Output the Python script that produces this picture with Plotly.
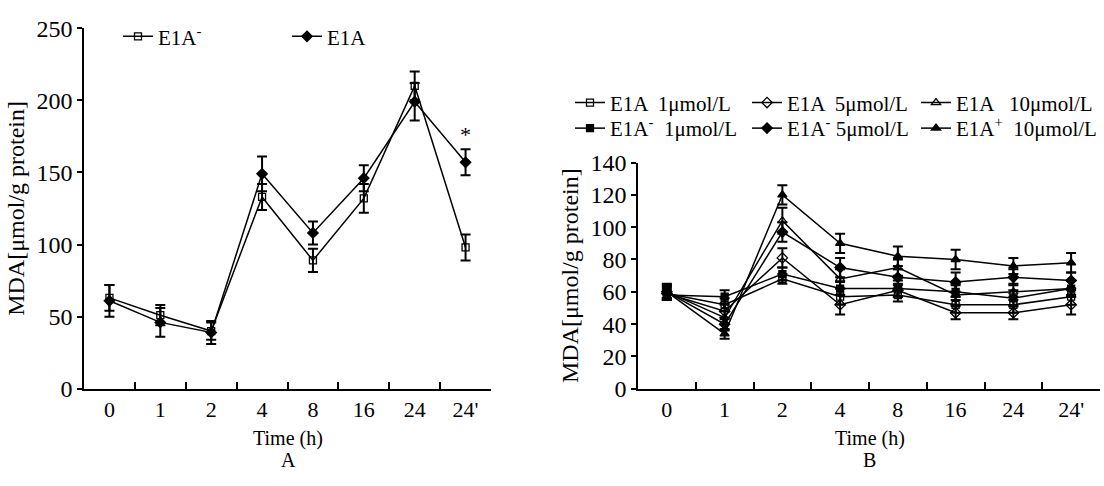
import plotly.graph_objects as go

categories = ["0", "1", "2", "4", "8", "16", "24", "24'"]

# Panel A
a_names = ["E1A<sup>-</sup>", "E1A"]
a_neg_vals = [63, 51, 40, 133, 89, 132, 210, 98]
a_neg_err = [9, 7, 6, 9, 8, 10, 10, 9]
a_pos_vals = [61, 46, 39, 149, 108, 146, 199, 157]
a_pos_err = [11, 10, 8, 12, 8, 9, 13, 9]

# Panel B
b_names = ["E1A  1μmol/L", "E1A  5μmol/L", "E1A   10μmol/L",
           "E1A<sup>-</sup>  1μmol/L", "E1A<sup>-</sup> 5μmol/L", "E1A<sup>+</sup>  10μmol/L"]
b_e1a_1 = [59, 52, 68, 57, 58, 52, 52, 57]
b_e1a_5 = [59, 48, 81, 52, 61, 47, 47, 52]
b_e1a_10 = [60, 44, 104, 68, 75, 58, 60, 62]
b_neg_1 = [58, 57, 71, 62, 62, 60, 56, 62]
b_neg_5 = [60, 40, 97, 75, 69, 66, 69, 67]
b_pos_10 = [60, 34, 120, 90, 82, 80, 76, 78]
b_err_e1a_1 = [3, 4, 3, 5, 4, 5, 5, 5]
b_err_e1a_5 = [4, 4, 6, 6, 4, 4, 4, 6]
b_err_e1a_10 = [4, 4, 8, 6, 5, 6, 5, 5]
b_err_neg_1 = [3, 4, 4, 4, 5, 5, 5, 5]
b_err_neg_5 = [4, 4, 6, 6, 5, 6, 5, 5]
b_err_pos_10 = [5, 3, 6, 6, 6, 6, 5, 6]

x_title = "Time (h)"
y_title = "MDA[μmol/g protein]"

FONT = "Liberation Serif"
W, H = 1104, 486


def px_x(p):
    return p / W


def px_y(p):
    return 1 - p / H


fig = go.Figure()


def add(x_ax, y_ax, vals, errs, name, symbol, legend, size):
    fig.add_trace(go.Scatter(
        x=categories, y=vals, name=name, mode="lines+markers",
        xaxis=x_ax, yaxis=y_ax, legend=legend,
        line=dict(color="black", width=1.5),
        marker=dict(symbol=symbol, size=size, color="black",
                    line=dict(color="black", width=1.3)),
        error_y=dict(type="data", array=errs, visible=True, color="black", thickness=2, width=5),
    ))


add("x", "y", a_neg_vals, a_neg_err, a_names[0], "square-open", "legend", 7)
add("x", "y", a_pos_vals, a_pos_err, a_names[1], "diamond", "legend2", 8)

b_series = [b_e1a_1, b_e1a_5, b_e1a_10, b_neg_1, b_neg_5, b_pos_10]
b_errs = [b_err_e1a_1, b_err_e1a_5, b_err_e1a_10, b_err_neg_1, b_err_neg_5, b_err_pos_10]
b_symbols = ["square-open", "diamond-open", "triangle-up-open", "square", "diamond", "triangle-up"]
b_sizes = [7, 8, 8, 7, 8, 8]
for i, (vals, errs, name, sym, sz) in enumerate(zip(b_series, b_errs, b_names, b_symbols, b_sizes)):
    add("x2", "y2", vals, errs, name, sym, "legend%d" % (i + 3), sz)

xcommon = dict(type="category", range=[-0.5, 7.5], showline=True, linecolor="black", linewidth=1.5,
               ticks="inside", tickson="boundaries", ticklen=7, tickwidth=1.5, tickcolor="black",
               showgrid=False, zeroline=False, ticklabelstandoff=0,
               tickfont=dict(family=FONT, size=22, color="black"))
ycommon = dict(showline=True, linecolor="black", linewidth=1.5, ticks="outside", ticklen=5,
               tickwidth=1.5, tickcolor="black", showgrid=False, zeroline=False,
               tickfont=dict(family=FONT, size=24, color="black"),
               title=dict(text=y_title, font=dict(family=FONT, size=24, color="black"),
                          standoff=5))

legend_font = dict(family=FONT, size=21, color="black")


def leg(text_x, center_y):
    return dict(orientation="v", x=px_x(text_x - 40), xanchor="left", y=px_y(center_y),
                yanchor="middle", bgcolor="rgba(0,0,0,0)", borderwidth=0,
                font=legend_font, itemwidth=30)


legends = {
    "legend": leg(158, 25),
    "legend2": leg(327, 25),
    "legend3": leg(610, 95),
    "legend4": leg(787, 95),
    "legend5": leg(956, 95),
    "legend6": leg(610, 122),
    "legend7": leg(787, 122),
    "legend8": leg(956, 122),
}


def label(text, cx, y, yanchor, size):
    return dict(x=px_x(cx), y=y, xref="paper", yref="paper", text=text, showarrow=False,
                xanchor="center", yanchor=yanchor, font=dict(family=FONT, size=size, color="black"))


fig.update_layout(
    width=W, height=H, margin=dict(l=0, r=0, t=0, b=0),
    paper_bgcolor="white", plot_bgcolor="white",
    font=dict(family=FONT, color="black"),
    xaxis=dict(domain=[px_x(84), px_x(491)], anchor="y", **xcommon),
    yaxis=dict(domain=[px_y(397), px_y(16)], anchor="x", range=[0, 250], dtick=50, **ycommon),
    xaxis2=dict(domain=[px_x(638), px_x(1100)], anchor="y2", **xcommon),
    yaxis2=dict(domain=[px_y(397), px_y(158)], anchor="x2", range=[0, 140], dtick=20, **ycommon),
    showlegend=True,
    annotations=[
        dict(x="24'", y=166, xref="x", yref="y", text="*", showarrow=False, yanchor="bottom",
             font=dict(family=FONT, size=22, color="black")),
        label(x_title, 288, px_y(450), "middle", 20),
        label(x_title, 870, px_y(450), "middle", 20),
        label("A", 288, 0, "bottom", 20),
        label("B", 870, 0, "bottom", 20),
    ],
    **legends,
)

fig.write_html("out.html")
